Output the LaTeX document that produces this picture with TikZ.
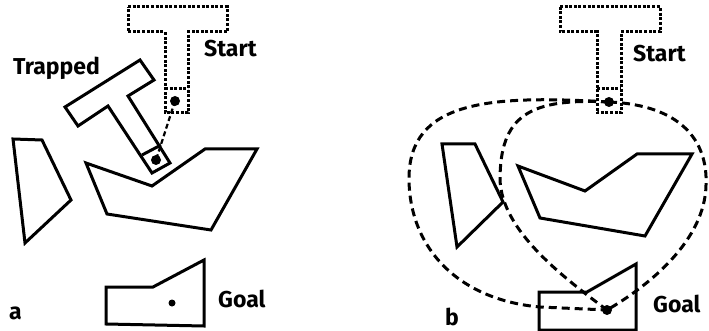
\documentclass[tikz,border=0pt]{standalone}
\usepackage{fontspec}
\setmainfont{Fira Sans}
\tikzset{
  obst/.style={line width=3pt,line join=miter},
  dotT/.style={line width=3pt,dash pattern=on 3pt off 1.6pt},
  trail/.style={line width=3pt,dash pattern=on 8pt off 5pt},
  lbl/.style={anchor=base west,inner sep=0pt,font=\fontsize{23}{24}\selectfont\bfseries},
}
\begin{document}
\begin{tikzpicture}[x=1pt,y=-1pt]
\useasboundingbox (0,0) rectangle (709,331);
% panel a
\draw[dotT] (128,7) -- (227,7) -- (227,32) -- (188,32) -- (188,113) -- (165,113) -- (165,32) -- (128,32) -- cycle;
\draw[dotT] (165,89) -- (188,89);
\fill (175,101) circle (5pt) coordinate (sa);
\node[lbl] (starta) at (204,57) {Start};
\node[lbl] (trapped) at (13,75) {Trapped};
\draw[obst] (65,107) -- (140,60) -- (154,80) -- (128,96) -- (170,163) -- (152,173) -- (108,106) -- (78,126) -- cycle;
\draw[obst] (142,155) -- (161,145);
\fill (156,160) circle (5pt) coordinate (ta);
\draw[trail,line width=2.2pt,dash pattern=on 5pt off 3pt] (sa) -- (ta);
\draw[obst] (13,139) -- (42,140) -- (71,200) -- (25,243) -- cycle;
\draw[obst] (86,163) -- (152,186) -- (205,149) -- (257,149) -- (211,230) -- (107,214) -- cycle;
\draw[obst] (106,287) -- (153,287) -- (204,260) -- (204,326) -- (106,324) -- cycle;
\fill (172,303) circle (3.5pt) coordinate (ga);
\node[lbl] (goala) at (218,307) {Goal};
\node[lbl] (la) at (9,319) {a};
% panel b
\draw[dotT] (560,7) -- (660,7) -- (660,32) -- (621,32) -- (621,113) -- (597,113) -- (597,32) -- (560,32) -- cycle;
\draw[dotT] (597,89) -- (621,89);
\node[lbl] (startb) at (633,62) {Start};
\draw[obst] (442,144) -- (475,144) -- (503,202) -- (457,247) -- cycle;
\draw[obst] (518,166) -- (585,191) -- (637,154) -- (692,154) -- (645,236) -- (540,218) -- cycle;
\draw[obst] (539,292) -- (587,292) -- (636,264) -- (636,330) -- (539,330) -- cycle;
\coordinate (sb) at (609,102);
\coordinate (gb) at (607,310);
\draw[trail] (sb) .. controls (490,95) and (408,100) .. (409,180) .. controls (410,250) and (460,300) .. (540,307) -- (gb);
\draw[trail] (sb) .. controls (530,98) and (500,115) .. (500,180) .. controls (502,230) and (560,275) .. (gb);
\draw[trail] (sb) .. controls (680,105) and (708,140) .. (706,185) .. controls (705,240) and (650,285) .. (gb);
\fill (sb) circle (5pt);
\fill (gb) circle (5pt);
\node[lbl] (goalb) at (653,312) {Goal};
\node[lbl] (lb) at (445,325) {b};
\end{tikzpicture}
\end{document}
